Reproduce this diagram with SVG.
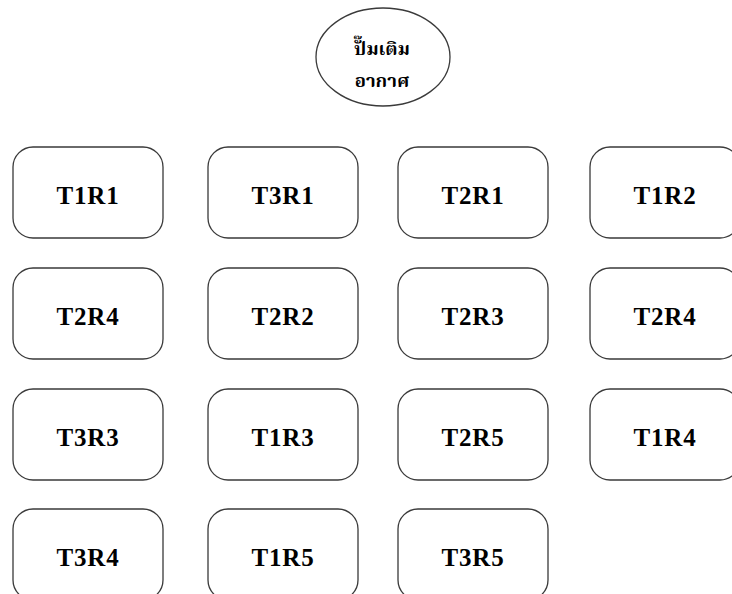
<svg xmlns="http://www.w3.org/2000/svg" width="732" height="594" viewBox="0 0 732 594">
<style>
.box{fill:#fff;stroke:#3a3a3a;stroke-width:1.3}
.lbl{font-family:"Liberation Serif","Times New Roman",serif;font-weight:bold;font-size:25px;letter-spacing:0.8px;fill:#000;text-anchor:middle}
.th{font-family:"Noto Serif Thai","Noto Sans Thai","Liberation Serif",serif;font-weight:bold;font-size:18.5px;fill:#000;text-anchor:middle}
</style>
<rect width="732" height="594" fill="#fff"/>
<g id="pump">
<ellipse class="box" cx="383" cy="57" rx="67" ry="49"/>
<text class="th" x="382" y="55">ปั๊มเติม</text>
<text class="th" x="382" y="87">อากาศ</text>
</g>
<g id="connectors"></g>
<g id="n1"><rect class="box" x="13" y="147" width="150" height="91" rx="20"/><text class="lbl" x="88" y="204">T1R1</text></g>
<g id="n2"><rect class="box" x="208" y="147" width="150" height="91" rx="20"/><text class="lbl" x="283" y="204">T3R1</text></g>
<g id="n3"><rect class="box" x="398" y="147" width="150" height="91" rx="20"/><text class="lbl" x="473" y="204">T2R1</text></g>
<g id="n4"><rect class="box" x="590" y="147" width="150" height="91" rx="20"/><text class="lbl" x="665" y="204">T1R2</text></g>
<g id="n5"><rect class="box" x="13" y="268" width="150" height="91" rx="20"/><text class="lbl" x="88" y="325">T2R4</text></g>
<g id="n6"><rect class="box" x="208" y="268" width="150" height="91" rx="20"/><text class="lbl" x="283" y="325">T2R2</text></g>
<g id="n7"><rect class="box" x="398" y="268" width="150" height="91" rx="20"/><text class="lbl" x="473" y="325">T2R3</text></g>
<g id="n8"><rect class="box" x="590" y="268" width="150" height="91" rx="20"/><text class="lbl" x="665" y="325">T2R4</text></g>
<g id="n9"><rect class="box" x="13" y="389" width="150" height="91" rx="20"/><text class="lbl" x="88" y="446">T3R3</text></g>
<g id="n10"><rect class="box" x="208" y="389" width="150" height="91" rx="20"/><text class="lbl" x="283" y="446">T1R3</text></g>
<g id="n11"><rect class="box" x="398" y="389" width="150" height="91" rx="20"/><text class="lbl" x="473" y="446">T2R5</text></g>
<g id="n12"><rect class="box" x="590" y="389" width="150" height="91" rx="20"/><text class="lbl" x="665" y="446">T1R4</text></g>
<g id="n13"><rect class="box" x="13" y="509" width="150" height="91" rx="20"/><text class="lbl" x="88" y="566">T3R4</text></g>
<g id="n14"><rect class="box" x="208" y="509" width="150" height="91" rx="20"/><text class="lbl" x="283" y="566">T1R5</text></g>
<g id="n15"><rect class="box" x="398" y="509" width="150" height="91" rx="20"/><text class="lbl" x="473" y="566">T3R5</text></g>
</svg>
